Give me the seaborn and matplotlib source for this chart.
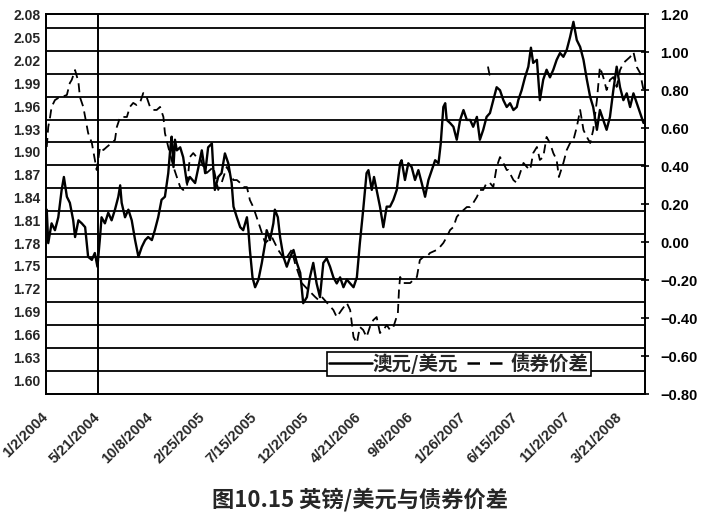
import numpy as np
import pandas as pd
import matplotlib
matplotlib.use("Agg")
import matplotlib.pyplot as plt
from matplotlib.lines import Line2D
from matplotlib.font_manager import FontProperties
import seaborn as sns

# ---------------- data ----------------
start_date = "2004-01-02"
x_tick_labels = ["1/2/2004", "5/21/2004", "10/8/2004", "2/25/2005", "7/15/2005",
                 "12/2/2005", "4/21/2006", "9/8/2006", "1/26/2007", "6/15/2007",
                 "11/2/2007", "3/21/2008"]
left_ticks = [1.60, 1.63, 1.66, 1.69, 1.72, 1.75, 1.78, 1.81, 1.84, 1.87,
              1.90, 1.93, 1.96, 1.99, 2.02, 2.05, 2.08]
right_ticks = [-0.80, -0.60, -0.40, -0.20, 0.00, 0.20, 0.40, 0.60, 0.80, 1.00, 1.20]
series_names = ["澳元/美元", "债券价差"]
title_text = "图10.15 英镑/美元与债券价差"

# exchange rate (left axis): days after start date, value
fx_days = [2, 6, 15, 24, 33, 42, 48, 56, 64, 73,
           78, 87, 96, 105, 113, 123, 131, 138, 145, 149,
           158, 167, 176, 185, 194, 199, 203, 212, 221, 230,
           239, 248, 257, 266, 274, 284, 292, 301, 310, 319,
           328, 333, 337, 342, 346, 351, 360, 368, 378, 386,
           400, 409, 418, 427, 435, 445, 449, 453, 462, 471,
           480, 489, 498, 503, 512, 521, 529, 539, 543, 547,
           554, 561, 570, 579, 588, 592, 601, 610, 614, 622,
           628, 637, 646, 655, 664, 673, 682, 690, 700, 708,
           717, 726, 735, 744, 753, 762, 771, 780, 789, 798,
           807, 816, 825, 834, 842, 851, 860, 865, 874, 880,
           887, 896, 905, 914, 923, 932, 941, 950, 954, 963,
           972, 981, 990, 999, 1008, 1017, 1026, 1035, 1044, 1053,
           1059, 1066, 1071, 1075, 1084, 1093, 1102, 1111, 1120, 1129,
           1138, 1146, 1156, 1164, 1173, 1182, 1191, 1200, 1209, 1218,
           1227, 1236, 1245, 1254, 1263, 1267, 1276, 1285, 1294, 1301,
           1307, 1317, 1325, 1334, 1343, 1352, 1361, 1370, 1379, 1388,
           1397, 1406, 1415, 1424, 1433, 1442, 1451, 1460, 1468, 1478,
           1486, 1495, 1504, 1513, 1522, 1531, 1540, 1549, 1558, 1567,
           1576, 1585, 1594, 1603]
fx_values = [1.824, 1.780, 1.806, 1.797, 1.814, 1.850, 1.867, 1.841, 1.833, 1.810,
             1.788, 1.810, 1.806, 1.801, 1.762, 1.758, 1.767, 1.749, 1.788, 1.814,
             1.806, 1.820, 1.810, 1.824, 1.841, 1.856, 1.833, 1.814, 1.824, 1.810,
             1.784, 1.762, 1.775, 1.784, 1.788, 1.784, 1.797, 1.814, 1.837, 1.841,
             1.872, 1.902, 1.920, 1.880, 1.916, 1.902, 1.906, 1.893, 1.859, 1.867,
             1.859, 1.880, 1.902, 1.872, 1.906, 1.911, 1.876, 1.850, 1.867, 1.872,
             1.898, 1.885, 1.859, 1.828, 1.814, 1.801, 1.797, 1.814, 1.797, 1.771,
             1.735, 1.722, 1.732, 1.754, 1.780, 1.797, 1.784, 1.806, 1.824, 1.814,
             1.788, 1.762, 1.749, 1.762, 1.771, 1.754, 1.741, 1.701, 1.709, 1.735,
             1.754, 1.727, 1.709, 1.754, 1.760, 1.749, 1.735, 1.727, 1.735, 1.722,
             1.732, 1.727, 1.722, 1.735, 1.780, 1.824, 1.872, 1.876, 1.850, 1.867,
             1.850, 1.828, 1.801, 1.828, 1.828, 1.837, 1.850, 1.885, 1.889, 1.863,
             1.885, 1.880, 1.863, 1.876, 1.859, 1.841, 1.863, 1.876, 1.889, 1.885,
             1.911, 1.959, 1.964, 1.942, 1.938, 1.933, 1.916, 1.942, 1.955, 1.942,
             1.942, 1.933, 1.946, 1.916, 1.929, 1.946, 1.951, 1.968, 1.985, 1.981,
             1.968, 1.959, 1.964, 1.955, 1.959, 1.968, 1.981, 1.998, 2.012, 2.037,
             2.017, 2.021, 1.968, 1.995, 2.008, 1.998, 2.008, 2.021, 2.030, 2.025,
             2.034, 2.051, 2.071, 2.047, 2.038, 2.021, 1.995, 1.972, 1.959, 1.929,
             1.955, 1.942, 1.929, 1.946, 1.981, 2.012, 1.985, 1.968, 1.977, 1.959,
             1.977, 1.964, 1.951, 1.938]

# bond spread (right axis): days after start date, value
spread_days = [2, 6, 11, 15, 24, 33, 42, 56, 64, 69,
               78, 87, 91, 100, 105, 113, 123, 131, 136, 145,
               154, 163, 176, 185, 190, 199, 207, 217, 225, 234,
               243, 252, 261, 270, 279, 288, 297, 306, 315, 319,
               328, 337, 342, 351, 360, 368, 378, 386, 395, 404,
               413, 422, 431, 440, 449, 462, 471, 485, 503, 512,
               521, 529, 539, 547, 556, 565, 574, 588, 606, 623,
               641, 659, 668, 686, 704, 722, 731, 740, 771, 780,
               793, 807, 816, 825, 834, 842, 851, 860, 869, 878,
               887, 896, 905, 914, 923, 932, 944, 947, 950, 959,
               977, 985, 995, 1003, 1012, 1021, 1030, 1048, 1057, 1066,
               1075, 1084, 1093, 1102, 1111, 1120, 1129, 1138, 1146, 1156,
               1164, 1173, 1182, 1191, 1200, 1209, 1218, 1227, 1236, 1240,
               1254, 1263, 1272, 1281, 1290, 1299, 1307, 1317, 1325, 1334,
               1343, 1352, 1361, 1370, 1376, 1388, 1397, 1406, 1415, 1424,
               1433, 1442, 1451, 1460, 1468, 1478, 1486, 1495, 1504, 1513,
               1522, 1531, 1540, 1549, 1558, 1567, 1576, 1585, 1594, 1603]
spread_values = [0.500, 0.605, 0.658, 0.711, 0.747, 0.758, 0.763, 0.774, 0.837, 0.853,
                 0.905, 0.842, 0.763, 0.711, 0.658, 0.574, 0.521, 0.432, 0.379, 0.500,
                 0.484, 0.500, 0.521, 0.537, 0.605, 0.658, 0.658, 0.658, 0.711, 0.732,
                 0.721, 0.732, 0.784, 0.763, 0.711, 0.695, 0.695, 0.711, 0.658, 0.574,
                 0.500, 0.432, 0.395, 0.342, 0.289, 0.274, 0.289, 0.447, 0.468, 0.447,
                 0.447, 0.395, 0.363, 0.379, 0.395, 0.274, 0.311, 0.395, 0.326, 0.326,
                 0.311, 0.289, 0.289, 0.221, 0.184, 0.132, 0.079, -0.005, 0.026, -0.042,
                 -0.095, -0.042, -0.111, -0.216, -0.253, -0.289, -0.305, -0.289, -0.358, -0.395,
                 -0.358, -0.321, -0.358, -0.500, -0.532, -0.447, -0.463, -0.500, -0.447, -0.411,
                 -0.395, -0.479, -0.463, -0.437, -0.463, -0.447, -0.374, -0.253, -0.184, -0.216,
                 -0.216, -0.200, -0.184, -0.095, -0.079, -0.079, -0.058, -0.042, -0.026, -0.005,
                 0.026, 0.063, 0.079, 0.132, 0.153, 0.168, 0.184, 0.184, 0.205, 0.237,
                 0.274, 0.274, 0.311, 0.311, 0.289, 0.395, 0.447, 0.416, 0.379, 0.379,
                 0.326, 0.311, 0.363, 0.416, 0.395, 0.379, 0.468, 0.500, 0.432, 0.447,
                 0.553, 0.521, 0.468, 0.432, 0.342, 0.416, 0.484, 0.521, 0.537, 0.605,
                 0.695, 0.589, 0.553, 0.521, 0.589, 0.747, 0.921, 0.868, 0.800, 0.853,
                 0.868, 0.816, 0.905, 0.942, 0.958, 0.974, 1.000, 0.921, 0.889, 0.800]
# isolated short stroke of the spread series
spread_spike_days = [1186, 1190]
spread_spike_values = [0.92, 0.88]

assert len(fx_days) == len(fx_values)
assert len(spread_days) == len(spread_values)

# ---------------- style ----------------
sns.set_style("white")
plt.rcParams["font.family"] = ["Liberation Sans", "DejaVu Sans"]
plt.rcParams["axes.unicode_minus"] = True
cjk = ["Noto Sans CJK SC", "DejaVu Sans"]

t0 = pd.Timestamp(start_date)
def to_dates(d):
    return t0 + pd.to_timedelta(np.asarray(d), unit="D")

fx = pd.DataFrame({"date": to_dates(fx_days), "value": fx_values})
sp = pd.DataFrame({"date": to_dates(spread_days), "value": spread_values})
sp_spike = pd.DataFrame({"date": to_dates(spread_spike_days), "value": spread_spike_values})

W, H = 719, 525
fig = plt.figure(figsize=(W / 100, H / 100), dpi=100)
fig.patch.set_facecolor("white")
ax = fig.add_axes([46 / W, 1 - 394 / H, 599 / W, 380 / H])
ax2 = ax.twinx()

dash = (0, (5, 3))
sns.lineplot(data=fx, x="date", y="value", ax=ax, color="black", linewidth=1.7,
             estimator=None, sort=False, zorder=3)
sns.lineplot(data=sp, x="date", y="value", ax=ax2, color="black", linewidth=1.3,
             linestyle=dash, estimator=None, sort=False, zorder=3)
sns.lineplot(data=sp_spike, x="date", y="value", ax=ax2, color="black", linewidth=1.3,
             estimator=None, sort=False, zorder=3)

# axes ranges
ax.set_ylim(1.5816, 2.0813)
ax2.set_ylim(-0.80, 1.20)
xticks = pd.to_datetime(x_tick_labels, format="%m/%d/%Y")
ax.set_xlim(t0, t0 + pd.Timedelta(days=1607))

# horizontal gridlines (drawn half a step above the left labels, as in the source)
grid_offset = 0.0124
for v in left_ticks[:-1]:
    ax.axhline(v + grid_offset, color="black", linewidth=1.3, zorder=1)
# vertical line at the second date label
ax.axvline(xticks[1], color="black", linewidth=1.4, zorder=2)

# ticks
ax.set_yticks(left_ticks)
ax.set_yticklabels([f"{v:.2f}" for v in left_ticks], fontsize=10, fontweight="bold")
ax.tick_params(axis="y", length=0, pad=4)
ax2.set_yticks(right_ticks)
ax2.set_yticklabels([f"{v:.2f}".replace("-", "\u2212") for v in right_ticks],
                    fontsize=10.5, fontweight="bold")
ax2.tick_params(axis="y", direction="inout", length=6, width=1.2, pad=8, colors="black")

ax.set_xticks(xticks)
ax.set_xticklabels(x_tick_labels, rotation=45, ha="right", va="center",
                   rotation_mode="anchor", fontsize=10.5, fontweight="bold")
ax.tick_params(axis="x", direction="inout", length=6, width=1.2, pad=12)
ax2.tick_params(axis="x", length=0)

for a in (ax, ax2):
    a.set_xlabel("")
    a.set_ylabel("")
    for s in a.spines.values():
        s.set_color("black")
        s.set_linewidth(1.3)
        s.set_visible(True)
    a.grid(False)

# legend
h1 = Line2D([], [], color="black", linewidth=1.8)
h2 = Line2D([], [], color="black", linewidth=1.8, linestyle=(0, (5, 4)))
leg = ax2.legend(handles=[h1, h2], labels=series_names, ncol=2, loc="lower left",
                 bbox_to_anchor=(0.469, 0.047), frameon=True, fancybox=False,
                 edgecolor="black", framealpha=1, borderpad=0.1, handlelength=2.2,
                 handletextpad=0.05, columnspacing=0.45, borderaxespad=0,
                 prop=FontProperties(family=cjk, size=14, weight="bold"))
leg.get_frame().set_linewidth(1.2)
leg.set_zorder(10)

fig.text(0.5, 1 - 500 / H, title_text, ha="center", va="center", fontsize=16,
         fontweight="bold", family=cjk)

fig.savefig("out.png", dpi=100, facecolor="white")
